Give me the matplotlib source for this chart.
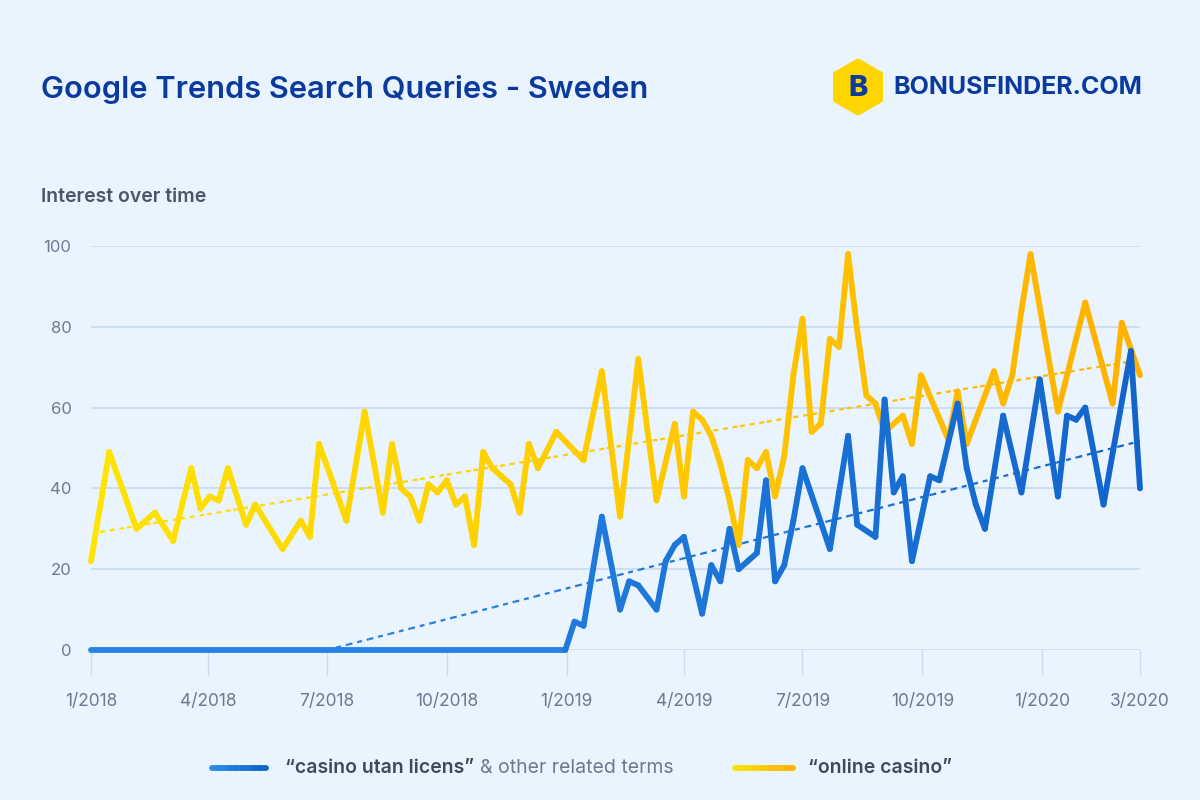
import numpy as np
import pandas as pd
import matplotlib
matplotlib.use("Agg")
import matplotlib.pyplot as plt
from matplotlib.collections import LineCollection
from matplotlib.colors import LinearSegmentedColormap
from matplotlib.patches import RegularPolygon

plt.rcParams['font.family'] = ['Inter', 'DejaVu Sans']

start = pd.Timestamp("2018-01-01")

# weekly google trends, week number counted from 1/2018
online_weeks = [0, 2, 5, 7, 9, 11, 12, 13, 14, 15, 17, 18, 21, 23, 24, 25, 28, 30, 32, 33,
                34, 35, 36, 37, 38, 39, 40, 41, 42, 43, 44, 45, 46, 47, 48, 49, 51, 54, 56, 58,
                60, 62, 64, 65, 66, 67, 68, 69, 70, 71, 72, 73, 74, 75, 76, 77, 78, 79, 80, 81,
                82, 83, 84, 85, 86, 87, 89, 90, 91, 94, 95, 96, 99, 100, 101, 102, 103, 106, 109, 112,
                113, 115]
online_vals = [22, 49, 30, 34, 27, 45, 35, 38, 37, 45, 31, 36, 25, 32, 28, 51, 32, 59, 34, 51,
               40, 38, 32, 41, 39, 42, 36, 38, 26, 49, 45, 43, 41, 34, 51, 45, 54, 47, 69, 33,
               72, 37, 56, 38, 59, 57, 53, 46, 37, 26, 47, 45, 49, 38, 48, 68, 82, 54, 56, 77,
               75, 98, 79, 63, 61, 54, 58, 51, 68, 52, 64, 51, 69, 61, 68, 84, 98, 59, 86, 61,
               81, 68]

utan_weeks = [0, 52, 53, 54, 56, 58, 59, 60, 62, 63, 64, 65, 67, 68, 69, 70, 71, 72, 73, 74,
              75, 76, 77, 78, 81, 83, 84, 86, 87, 88, 89, 90, 92, 93, 95, 96, 97, 98, 100, 102,
              104, 106, 107, 108, 109, 111, 114, 115]
utan_vals = [0, 0, 7, 6, 33, 10, 17, 16, 10, 22, 26, 28, 9, 21, 17, 30, 20, 22, 24, 42,
             17, 21, 32, 45, 25, 53, 31, 28, 62, 39, 43, 22, 43, 42, 61, 45, 36, 30, 58, 39,
             67, 38, 58, 57, 60, 36, 74, 40]

# trend lines (start date, start value, end value)
online_trend = ("2018-01-08", 29.2, 71.8)
utan_trend = ("2018-07-01", 0, 51.7)

tick_dates = ["2018-01-01", "2018-04-01", "2018-07-01", "2018-10-01", "2019-01-01",
              "2019-04-01", "2019-07-01", "2019-10-01", "2020-01-01"]
tick_labels = ["1/2018", "4/2018", "7/2018", "10/2018", "1/2019",
               "4/2019", "7/2019", "10/2019", "1/2020", "3/2020"]

bg = '#EAF4FE'
navy = '#0B3A9E'
grid_c = '#CADBF1'

yellow_cm = LinearSegmentedColormap.from_list('y', ['#FFE400', '#FFB200'])
blue_cm = LinearSegmentedColormap.from_list('b', ['#2B8DEA', '#1264CB'])


def days(d):
    return (pd.Timestamp(d) - start).days


x_end = utan_weeks[-1] * 7


def grad_line(ax, x, y, cmap, lw, span=None, **kw):
    x = np.asarray(x, float)
    y = np.asarray(y, float)
    pts = np.column_stack([x, y]).reshape(-1, 1, 2)
    segs = np.concatenate([pts[:-1], pts[1:]], axis=1)
    lo, hi = span if span else (0, x_end)
    mid = ((x[:-1] + x[1:]) / 2 - lo) / (hi - lo)
    lc = LineCollection(segs, colors=cmap(mid), linewidths=lw, capstyle='round',
                        joinstyle='round', clip_on=False, **kw)
    ax.add_collection(lc)
    return lc


fig = plt.figure(figsize=(12, 8), dpi=100, facecolor=bg)
ax = fig.add_axes([91 / 1200, 150 / 800, 1049 / 1200, 404 / 800])
ax.set_facecolor(bg)

ax.set_xlim(0, x_end)
ax.set_ylim(0, 100)
for s in ax.spines.values():
    s.set_visible(False)
ax.set_yticks(range(0, 101, 20))
ax.yaxis.grid(True, color=grid_c, lw=1.3)
ax.set_axisbelow(True)
ax.tick_params(axis='y', length=0, pad=14, labelsize=12, labelcolor='#6B7A8F')
ax.set_xticks([days(d) for d in tick_dates] + [x_end])
ax.set_xticklabels(tick_labels)
ax.tick_params(axis='x', length=18, width=1, color=grid_c, direction='out', pad=13,
               labelsize=12.5, labelcolor='#6B7A8F')

# trend lines, dotted
for trend, cm in [(online_trend, yellow_cm), (utan_trend, blue_cm)]:
    d0 = days(trend[0])
    tx = np.linspace(d0, x_end, 40)
    ty = np.linspace(trend[1], trend[2], 40)
    for i in range(len(tx) - 1):
        ax.plot(tx[i:i + 2], ty[i:i + 2], color=cm(tx[i] / x_end), lw=1.6,
                dashes=(2.2, 2.2), dash_capstyle='butt', zorder=2)

grad_line(ax, np.array(online_weeks) * 7, online_vals, yellow_cm, 4.2, zorder=3)
grad_line(ax, np.array(utan_weeks) * 7, utan_vals, blue_cm, 4.2, zorder=4)

# titles
fig.text(41 / 1200, 1 - 89 / 800, "Google Trends Search Queries - Sweden", fontsize=22.2,
         fontweight='semibold', color=navy, va='center')
fig.text(41 / 1200, 1 - 197 / 800, "Interest over time", fontsize=14, fontweight='semibold',
         color='#4A5668', va='center')

# logo
hexa = RegularPolygon((8.58, 8 - 0.87), numVertices=6, radius=0.265, orientation=0,
                      facecolor='#FFD500', edgecolor='#FFD500', lw=3, joinstyle='round',
                      transform=fig.dpi_scale_trans)
fig.patches.append(hexa)
fig.text(858 / 1200, 1 - 88 / 800, "B", fontsize=21, fontweight='heavy', color=navy,
         ha='center', va='center')
fig.text(893 / 1200, 1 - 88 / 800, "BONUSFINDER.COM", fontsize=18, fontweight='bold',
         color=navy, va='center')

# legend
lax = fig.add_axes([0, 0, 1, 1], facecolor='none')
lax.set_xlim(0, 1200)
lax.set_ylim(800, 0)
lax.axis('off')
grad_line(lax, np.linspace(212, 266, 10), [768] * 10, blue_cm, 4.2, span=(212, 266))
grad_line(lax, np.linspace(735, 793, 10), [768] * 10, yellow_cm, 4.2, span=(735, 793))
t1 = lax.text(285, 768, "\u201ccasino utan licens\u201d", fontsize=14, fontweight='semibold',
              color='#3E4A5C', va='center')
fig.canvas.draw()
bb = t1.get_window_extent()
lax.text(bb.x1 + 6, 768, "& other related terms", fontsize=14, color='#6B7A8F', va='center')
lax.text(808, 768, "\u201conline casino\u201d", fontsize=14, fontweight='semibold',
         color='#3E4A5C', va='center')

fig.savefig("out.png", dpi=100, facecolor=bg)
